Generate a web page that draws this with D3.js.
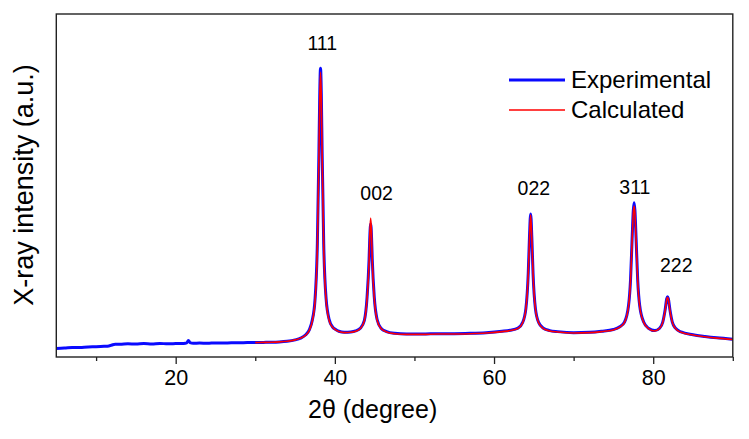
<!DOCTYPE html>
<html>
<head>
<meta charset="utf-8">
<script src="https://cdn.jsdelivr.net/npm/d3@7"></script>
<style>
  body { margin: 0; background: #fff; }
  text { font-family: "Liberation Sans", Arial, sans-serif; fill: #000; }
</style>
</head>
<body>
<div id="chart"></div>
<script>
// 2theta (deg) / intensity (a.u.)
var expTheta = [5, 6, 7, 8, 9, 10, 11, 11.6, 12.0, 12.4, 13, 14, 15, 16, 17, 18, 19, 20, 21, 21.4, 21.6, 21.8, 22.2, 23, 24, 25, 26, 27, 28, 29, 30,
  31, 32, 33, 34, 35, 35.7, 36.3, 36.8, 37.15, 37.5, 37.8, 38.0, 38.1, 38.2, 38.3, 38.4, 38.6, 38.9, 39.3, 39.7, 40.1, 40.5, 41.2,
  42.0, 42.6, 43.2, 43.7, 44.05, 44.3, 44.4, 44.5, 44.6, 44.7, 44.95, 45.3, 45.8, 46.5, 47.5, 49, 51, 53, 55, 57, 59, 61, 62, 63,
  63.6, 64.0, 64.3, 64.45, 64.6, 64.75, 64.9, 65.2, 65.6, 66.2, 67, 68, 70, 72, 73.5, 75, 75.8, 76.4, 76.9, 77.15, 77.35, 77.5, 77.6,
  77.7, 77.85, 78.05, 78.3, 78.8, 79.4, 80.2, 80.8, 81.2, 81.5, 81.7, 81.8, 81.9, 82.1, 82.4, 82.8, 83.5, 85, 86.5, 88, 90];
var expInt = [25, 26, 27.5, 28, 29.5, 30, 31, 32, 35, 37, 37, 38.5, 38, 39, 38, 39.5, 38.5, 39, 39.5, 41, 48, 42, 40, 40.5, 40, 41, 40.5, 41.5, 41.5, 42, 42,
  42.5, 43, 44, 46, 50, 55, 64, 80, 106, 165, 330, 600, 764, 842, 764, 600, 330, 170, 108, 88, 80, 75, 72,
  73, 76, 84, 106, 175, 285, 355, 388, 355, 285, 175, 110, 84, 74, 69, 67, 67, 68, 68, 69, 71, 75, 78, 84,
  101, 141, 245, 348, 417, 348, 245, 141, 101, 84, 77, 74, 71, 72, 75, 80, 88, 102, 150, 225, 345, 428, 450,
  428, 345, 225, 150, 102, 84, 77, 84, 102, 138, 170, 176, 170, 138, 102, 84, 73, 65, 60, 56, 52];

var calcTheta = [30, 31, 32, 33, 34, 35, 35.7, 36.3, 36.8, 37.15, 37.5, 37.8, 38.0, 38.1, 38.2, 38.3, 38.4, 38.6, 38.9, 39.3, 39.7, 40.1, 40.5, 41.2,
  42.0, 42.6, 43.2, 43.7, 44.05, 44.3, 44.4, 44.5, 44.6, 44.7, 44.95, 45.3, 45.8, 46.5, 47.5, 49, 51, 53, 55, 57, 59, 61, 62, 63,
  63.6, 64.0, 64.3, 64.45, 64.6, 64.75, 64.9, 65.2, 65.6, 66.2, 67, 68, 70, 72, 73.5, 75, 75.8, 76.4, 76.9, 77.15, 77.35, 77.5, 77.6,
  77.7, 77.85, 78.05, 78.3, 78.8, 79.4, 80.2, 80.8, 81.2, 81.5, 81.7, 81.8, 81.9, 82.1, 82.4, 82.8, 83.5, 85, 86.5, 88, 90];
var calcInt = [42, 42.5, 43, 44, 46, 50, 55, 63, 78, 103, 160, 320, 590, 755, 831, 755, 590, 320, 165, 105, 87, 79, 74, 71,
  72, 75, 83, 105, 172, 280, 365, 405, 365, 280, 172, 108, 83, 73, 68, 66, 66, 67, 67, 68, 70, 74, 77, 83,
  100, 140, 243, 345, 414, 345, 243, 140, 100, 83, 76, 73, 70, 71, 74, 79, 87, 101, 148, 222, 340, 420, 440,
  420, 340, 222, 148, 101, 83, 76, 83, 101, 136, 168, 174, 168, 136, 101, 83, 72, 64, 59, 55, 51];

var hkl = ["111", "002", "022", "311", "222"];
var hklTheta = [38.42, 45.25, 65.0, 77.7, 82.9];
var hklInt = [895, 458, 472, 475, 249];

var seriesNames = ["Experimental", "Calculated"];
var xTicks = [20, 40, 60, 80];
var xMinorTicks = [10, 30, 50, 70, 90];

var width = 749,
    height = 439;

var svg = d3.select("#chart").append("svg")
  .attr("width", width)
  .attr("height", height);

var x = d3.scaleLinear().domain([5, 90]).range([56.3, 732.8]);
var y = d3.scaleLinear().domain([0, 1000]).range([357, 14]);

var expData = expTheta.map(function(t, i) { return {x: t, y: expInt[i]}; });
var calcData = calcTheta.map(function(t, i) { return {x: t, y: calcInt[i]}; });

var line = d3.line()
  .x(function(d) { return x(d.x); })
  .y(function(d) { return y(d.y); })
  .curve(d3.curveMonotoneX);

svg.append("path")
  .datum(expData)
  .attr("fill", "none")
  .attr("stroke", "#0a0aff")
  .attr("stroke-width", 3)
  .attr("stroke-linejoin", "round")
  .attr("d", line);

svg.append("path")
  .datum(calcData)
  .attr("fill", "none")
  .attr("stroke", "#ff0000")
  .attr("stroke-width", 1.6)
  .attr("stroke-linejoin", "round")
  .attr("d", line);

// axes
var xAxis = svg.append("g")
  .attr("transform", "translate(0," + y.range()[0] + ")")
  .call(d3.axisBottom(x).tickValues(xTicks).tickSize(7).tickPadding(6).tickFormat(d3.format("d")));
xAxis.select(".domain").remove();
xAxis.selectAll("line").attr("stroke", "#222").attr("stroke-width", 1.3);
xAxis.selectAll("text").style("font-size", "21.5px");

var xMinor = svg.append("g")
  .attr("transform", "translate(0," + y.range()[0] + ")")
  .call(d3.axisBottom(x).tickValues(xMinorTicks).tickSize(4).tickFormat(""));
xMinor.select(".domain").remove();
xMinor.selectAll("line").attr("stroke", "#222").attr("stroke-width", 1.3);

// frame
svg.append("rect")
  .attr("x", x.range()[0])
  .attr("y", y.range()[1])
  .attr("width", x.range()[1] - x.range()[0])
  .attr("height", y.range()[0] - y.range()[1])
  .attr("fill", "none")
  .attr("stroke", "#222")
  .attr("stroke-width", 1.4);

// axis titles
svg.append("text")
  .attr("x", 308)
  .attr("y", 418)
  .style("font-size", "25px")
  .text("2\u03b8 (degree)");

svg.append("text")
  .attr("transform", "translate(33,185) rotate(-90)")
  .attr("text-anchor", "middle")
  .style("font-size", "27px")
  .text("X-ray intensity (a.u.)");

// peak labels
svg.selectAll(".hkl")
  .data(hkl)
  .enter().append("text")
  .attr("class", "hkl")
  .attr("x", function(d, i) { return x(hklTheta[i]); })
  .attr("y", function(d, i) { return y(hklInt[i]); })
  .attr("text-anchor", "middle")
  .style("font-size", "19.5px")
  .text(function(d) { return d; });

// legend
var legend = svg.append("g").attr("transform", "translate(509,80)");
var legColors = ["#0a0aff", "#ff0000"],
    legWidths = [3, 1.6];
seriesNames.forEach(function(name, i) {
  legend.append("line")
    .attr("x1", 0).attr("x2", 56)
    .attr("y1", i * 30).attr("y2", i * 30)
    .attr("stroke", legColors[i])
    .attr("stroke-width", legWidths[i]);
  legend.append("text")
    .attr("x", 62)
    .attr("y", i * 30 + 8)
    .style("font-size", "24px")
    .text(name);
});
</script>
</body>
</html>
